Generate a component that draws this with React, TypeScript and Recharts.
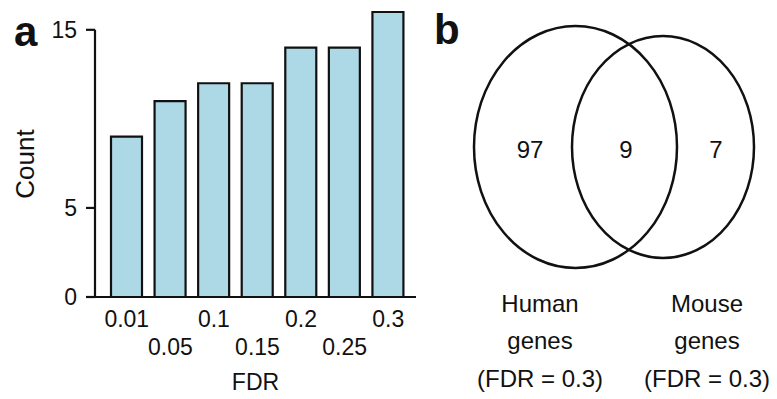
import React from "react";
import {
  BarChart,
  Bar,
  XAxis,
  YAxis,
  ReferenceLine,
  ScatterChart,
  Scatter,
  Customized,
} from "recharts";

// panel a: genes found at each FDR cut-off
const fdrLevels = ["0.01", "0.05", "0.1", "0.15", "0.2", "0.25", "0.3"];
const geneCounts = [9, 11, 12, 12, 14, 14, 16];
const countTicks = [0, 5, 15];

// panel b: overlap of human and mouse genes at FDR = 0.3
const overlapLabels = ["Human only", "Both", "Mouse only"];
const overlapCounts = [97, 9, 7];
const setNames = ["Human", "Mouse"];
const setFdr = 0.3;

const INK = "#111";
const FONT = "'Liberation Sans', Arial, Helvetica, sans-serif";

const barData = fdrLevels.map((fdr, i) => ({ fdr, count: geneCounts[i] }));

// venn layout, in panel pixels (hidden axes map 1 unit = 1 px)
const VENN_W = 357;
const VENN_H = 399;
const ellipses = [
  { x: 155.5, y: 147, rx: 101.5, ry: 121 },
  { x: 243, y: 147, rx: 91, ry: 111 },
];
const countPos = [110, 206, 296];
const setPos = [120, 287];

const countPoints = overlapLabels.map((region, i) => ({
  region,
  x: countPos[i],
  y: 150,
  value: overlapCounts[i],
}));
const setPoints = setNames.map((name, i) => ({ name, x: setPos[i], y: 300 }));

const AltTick = (props: any) => {
  const { x, y, payload, index } = props;
  return (
    <text
      x={x}
      y={y + (index % 2 === 0 ? 30 : 58)}
      textAnchor="middle"
      fontSize={23}
      fontFamily={FONT}
      fill={INK}
    >
      {payload.value}
    </text>
  );
};

const PanelLetter = ({ letter, x, y }: { letter: string; x: number; y: number }) => (
  <text x={x} y={y} fontSize={42} fontWeight={700} fontFamily={FONT} fill={INK}>
    {letter}
  </text>
);

const EllipseShape = (props: any) => {
  const { cx, cy, payload } = props;
  return (
    <ellipse cx={cx} cy={cy} rx={payload.rx} ry={payload.ry} fill="none" stroke={INK} strokeWidth={2.5} />
  );
};

const CountShape = (props: any) => {
  const { cx, cy, payload } = props;
  return (
    <text x={cx} y={cy + 8} textAnchor="middle" fontSize={24} fontFamily={FONT} fill={INK}>
      {payload.value}
    </text>
  );
};

const SetShape = (props: any) => {
  const { cx, cy, payload } = props;
  return (
    <text x={cx} textAnchor="middle" fontSize={24} fontFamily={FONT} fill={INK}>
      <tspan x={cx} y={cy + 12}>{payload.name}</tspan>
      <tspan x={cx} y={cy + 49}>genes</tspan>
      <tspan x={cx} y={cy + 87}>{`(FDR = ${setFdr})`}</tspan>
    </text>
  );
};

export default function App() {
  return (
    <div style={{ position: "absolute", left: 0, top: 0, width: 777, height: 399, background: "#fff", fontFamily: FONT }}>
      <div style={{ position: "absolute", left: 0, top: 0 }}>
        <BarChart width={420} height={399} data={barData} margin={{ top: 12, right: 4, bottom: 0, left: 0 }}>
          <XAxis
            dataKey="fdr"
            height={102}
            interval={0}
            padding={{ left: 10, right: 6 }}
            axisLine={{ stroke: INK, strokeWidth: 2.2 }}
            tickLine={false}
            tickSize={0}
            tickMargin={0}
            tick={<AltTick />}
            label={{ value: "FDR", position: "insideBottom", offset: 9, fontSize: 23, fill: INK, fontFamily: FONT }}
          />
          <XAxis xAxisId="edge" type="number" domain={[0, 1]} hide />
          <YAxis
            width={95}
            domain={[0, 16]}
            ticks={countTicks}
            interval={0}
            axisLine={false}
            tickSize={9}
            tickMargin={9}
            tickLine={{ stroke: INK, strokeWidth: 2.2 }}
            tick={{ fontSize: 23, fill: INK, fontFamily: FONT }}
            label={{
              content: () => (
                <text
                  x={25}
                  y={164}
                  transform="rotate(-90 25 164)"
                  textAnchor="middle"
                  dominantBaseline="central"
                  fontSize={26}
                  fontFamily={FONT}
                  fill={INK}
                >
                  Count
                </text>
              ),
            }}
          />
          <ReferenceLine
            xAxisId="edge"
            segment={[{ x: 0, y: 0 }, { x: 0, y: 15 }]}
            stroke={INK}
            strokeWidth={2.2}
          />
          <Bar dataKey="count" fill="#ADD8E6" stroke={INK} strokeWidth={2.2} barSize={31} isAnimationActive={false} />
          <Customized component={() => <PanelLetter letter="a" x={14} y={46} />} />
        </BarChart>
      </div>
      <div style={{ position: "absolute", left: 420, top: 0 }}>
        <ScatterChart width={VENN_W} height={VENN_H} margin={{ top: 0, right: 0, bottom: 0, left: 0 }}>
          <XAxis type="number" dataKey="x" domain={[0, VENN_W]} hide />
          <YAxis type="number" dataKey="y" domain={[0, VENN_H]} reversed hide />
          <Scatter data={ellipses} shape={<EllipseShape />} isAnimationActive={false} />
          <Scatter data={countPoints} shape={<CountShape />} isAnimationActive={false} />
          <Scatter data={setPoints} shape={<SetShape />} isAnimationActive={false} />
          <Customized component={() => <PanelLetter letter="b" x={14} y={44} />} />
        </ScatterChart>
      </div>
    </div>
  );
}
